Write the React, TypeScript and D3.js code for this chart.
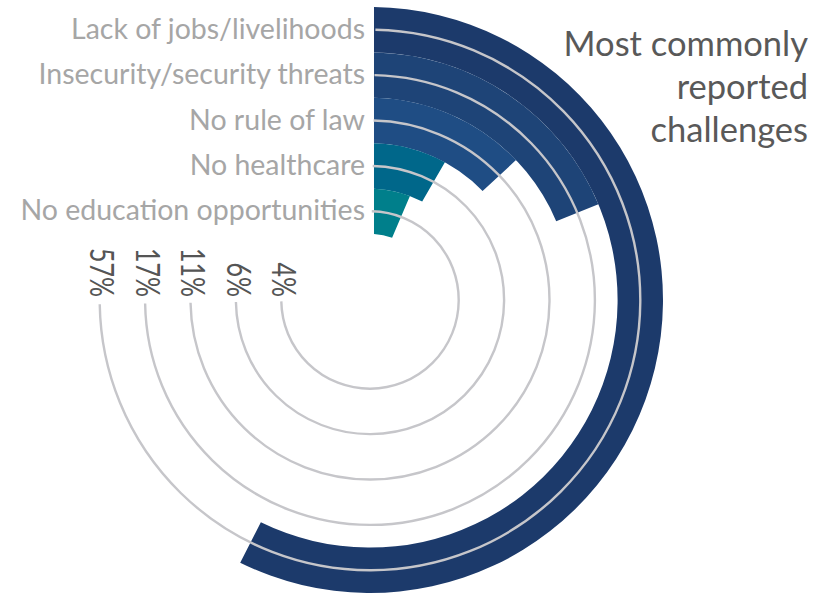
import { useEffect, useRef } from "react"
import * as d3 from "d3"

// chart data
const categories = [
  "Lack of jobs/livelihoods",
  "Insecurity/security threats",
  "No rule of law",
  "No healthcare",
  "No education opportunities",
]
const values = [57, 17, 11, 6, 4]
const colors = ["#1c3a6b", "#1e4477", "#1f4d84", "#00678a", "#007f8b"]
const titleLines = ["Most commonly", "reported", "challenges"]

const WIDTH = 814
const HEIGHT = 594
const FONT = "Lato, 'Open Sans', sans-serif"

export default function App() {
  const svgRef = useRef<SVGSVGElement>(null)

  useEffect(() => {
    if (!svgRef.current) return
    const root = d3.select(svgRef.current)
    root.selectAll("*").remove()

    const cx = 370
    const cy = 300

    // radial band per category, outermost first
    const r = d3.scaleBand<string>().domain(categories).range([293, 66]).paddingInner(0)
    const inner = (c: string) => r(c) || 0
    const mid = (c: string) => inner(c) + r.bandwidth() / 2
    // value -> angle (clockwise from 12 o'clock)
    const angle = d3.scaleLinear().domain([0, 100]).range([0.16, 6.22])

    const g = root.append("g").attr("transform", `translate(${cx},${cy})`)

    const bar = d3
      .arc<any>()
      .innerRadius((d) => inner(d.cat))
      .outerRadius((d) => inner(d.cat) + r.bandwidth())
      .startAngle(0)
      .endAngle((d) => angle(d.value))
      .padAngle(0.08)
      .padRadius(100)

    const rows = categories.map((cat, i) => ({ cat, value: values[i], color: colors[i] }))

    // bars
    g.selectAll("path.bar")
      .data(rows)
      .enter()
      .append("path")
      .attr("class", "bar")
      .attr("d", bar)
      .attr("fill", (d) => d.color)

    // grey tracks through the middle of each band
    const track = d3
      .arc<any>()
      .innerRadius((d) => mid(d.cat))
      .outerRadius((d) => mid(d.cat))
      .startAngle(0.02)
      .endAngle(Math.PI * 1.495)

    g.selectAll("path.track")
      .data(rows)
      .enter()
      .append("path")
      .attr("class", "track")
      .attr("d", track)
      .attr("fill", "none")
      .attr("stroke", "#c6c6ca")
      .attr("stroke-width", 2.4)

    // percentage labels at the end of each track, rotated
    g.selectAll("text.pct")
      .data(rows)
      .enter()
      .append("text")
      .attr("class", "pct")
      .attr("transform", (d) => `translate(${-mid(d.cat) + 3},-3) rotate(90) scale(0.78,1)`)
      .attr("text-anchor", "end")
      .attr("dominant-baseline", "central")
      .attr("font-family", FONT)
      .attr("font-size", 32)
      .attr("fill", "#555555")
      .text((d) => `${d.value}%`)

    // category labels to the left of the bars
    g.selectAll("text.cat")
      .data(rows)
      .enter()
      .append("text")
      .attr("class", "cat")
      .attr("x", -5)
      .attr("y", (d) => -mid(d.cat) + 9)
      .attr("text-anchor", "end")
      .attr("font-family", FONT)
      .attr("font-size", 28.5)
      .attr("fill", "#a6a6a6")
      .text((d) => d.cat)

    // title
    root
      .append("g")
      .selectAll("text")
      .data(titleLines)
      .enter()
      .append("text")
      .attr("x", 808)
      .attr("y", (_, i) => 56 + i * 43)
      .attr("text-anchor", "end")
      .attr("font-family", FONT)
      .attr("font-size", 34.5)
      .attr("fill", "#595959")
      .text((d) => d)
  }, [])

  return (
    <svg
      ref={svgRef}
      width={WIDTH}
      height={HEIGHT}
      style={{ position: "absolute", left: 0, top: 0, background: "#fff" }}
    ></svg>
  )
}
